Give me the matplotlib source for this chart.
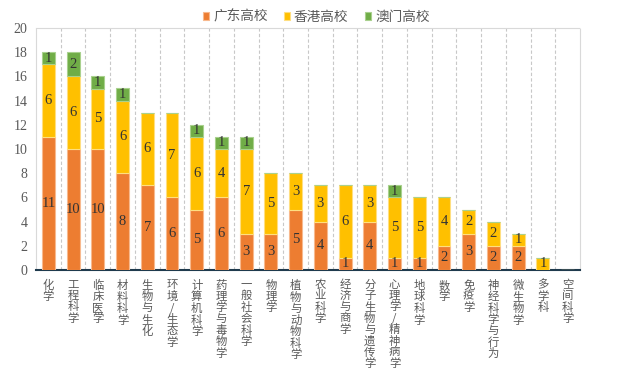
import numpy as np
import matplotlib.pyplot as plt

categories = ["化学", "工程科学", "临床医学", "材料科学", "生物与生化", "环境/生态学",
              "计算机科学", "药理学与毒物学", "一般社会科学", "物理学", "植物与动物科学",
              "农业科学", "经济与商学", "分子生物与遗传学", "心理学/精神病学", "地球科学",
              "数学", "免疫学", "神经科学与行为", "微生物学", "多学科", "空间科学"]
guangdong = [11, 10, 10, 8, 7, 6, 5, 6, 3, 3, 5, 4, 1, 4, 1, 1, 2, 3, 2, 2, 0, 0]
hongkong = [6, 6, 5, 6, 6, 7, 6, 4, 7, 5, 3, 3, 6, 3, 5, 5, 4, 2, 2, 1, 1, 0]
macau = [1, 2, 1, 1, 0, 0, 1, 1, 1, 0, 0, 0, 0, 0, 1, 0, 0, 0, 0, 0, 0, 0]
series_names = ["广东高校", "香港高校", "澳门高校"]
colors = ["#ED7D31", "#FFC000", "#70AD47"]
edges = ["#F8B98E", "#FFDF80", "#A9D18E"]

cjk = ["Noto Sans CJK SC", "DejaVu Sans"]
serif = ["Liberation Serif", "DejaVu Serif"]

fig = plt.figure(figsize=(6.23, 3.76), dpi=100)
ax = fig.add_axes([36 / 623, 1 - 270 / 376, 544 / 623, 242 / 376])

x = np.arange(len(categories))
bottom = np.zeros(len(categories))
handles = []
for vals, name, c, ec in zip([guangdong, hongkong, macau], series_names, colors, edges):
    vals = np.array(vals)
    bars = ax.bar(x, vals, 0.52, bottom=bottom, color=c, edgecolor=ec, linewidth=0.8,
                  label=name, zorder=3)
    handles.append(bars)
    for xi, v, b in zip(x, vals, bottom):
        if v > 0:
            ax.text(xi, b + v / 2, str(v), ha="center", va="center", fontsize=10.5,
                    family=serif, color="#333333", zorder=4)
    bottom = bottom + vals

ax.set_xlim(-0.5, len(categories) - 0.5)
ax.set_ylim(0, 20)
ax.set_yticks(range(0, 21, 2))
ax.tick_params(axis="y", length=0, labelsize=10, labelcolor="#595959", pad=6)
for lab in ax.get_yticklabels():
    lab.set_family(serif)

# vertical dashed lines between categories
for b in np.arange(0.5, len(categories) - 0.5, 1):
    ax.axvline(b, color="#C8C8C8", linestyle=(0, (3, 2)), linewidth=0.8, zorder=1)

for side in ["top", "right", "left"]:
    ax.spines[side].set_color("#D9D9D9")
    ax.spines[side].set_linewidth(0.8)
    ax.spines[side].set_linestyle((0, (1, 1)))
ax.spines["bottom"].set_color("#1F3A4D")
ax.spines["bottom"].set_linewidth(1.5)

ax.set_xticks(x)
ax.set_xticklabels(["\n".join(c) for c in categories], family=cjk, fontsize=8.2,
                   color="#595959", va="top", linespacing=1.08)
ax.tick_params(axis="x", length=0, pad=7)

ax.legend(handles=handles, labels=series_names, loc="lower center",
          bbox_to_anchor=(0.515, 0.995), ncol=3, frameon=False, prop={"family": cjk, "size": 9.8},
          handlelength=0.45, handleheight=0.45, handletextpad=0.3, columnspacing=1.2,
          labelcolor="#595959", borderaxespad=0.0)

fig.savefig("out.png", dpi=100)
